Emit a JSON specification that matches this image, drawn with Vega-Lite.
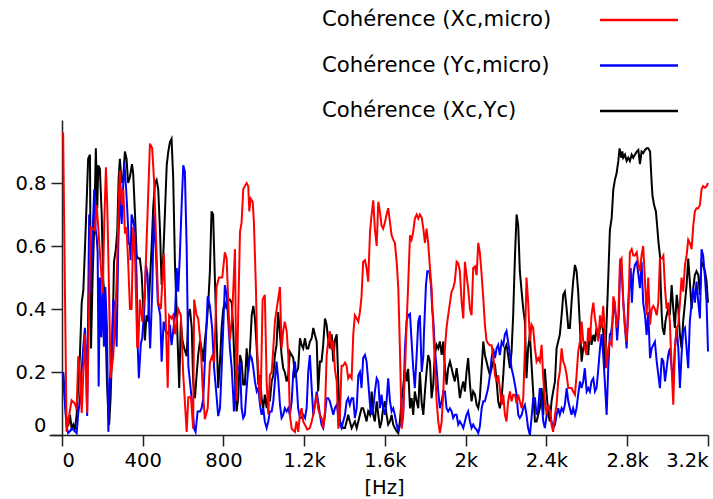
{
 "$schema": "https://vega.github.io/schema/vega-lite/v6.json",
 "width": 659,
 "height": 315,
 "autosize": {"type": "none"},
 "padding": {"left": 49, "top": 120, "right": 5, "bottom": 64},
 "config": {
  "view": {"stroke": null},
  "font": "DejaVu Sans",
  "axis": {"grid": false, "domainColor": "#222", "tickColor": "#222", "domainWidth": 1.5, "tickWidth": 1.5, "labelColor": "#000", "titleColor": "#000", "labelFont": "DejaVu Sans", "titleFont": "DejaVu Sans", "labelFontSize": 19.5, "titleFontSize": 19.5, "titleFontWeight": "normal", "tickSize": 11}
 },
 "datasets": {
  "xc_yc": [
   {"Hz":6,"coh":0.2},{"Hz":20,"coh":0.064},{"Hz":31,"coh":0.028},{"Hz":40,"coh":0.064},{"Hz":48,"coh":0.022},{"Hz":56,"coh":0.033},{"Hz":64,"coh":0.017},{"Hz":73,"coh":0.064},{"Hz":81,"coh":0.16},{"Hz":89,"coh":0.25},{"Hz":98,"coh":0.42},{"Hz":106,"coh":0.46},{"Hz":114,"coh":0.59},{"Hz":123,"coh":0.75},{"Hz":130,"coh":0.877},{"Hz":139,"coh":0.89},{"Hz":144,"coh":0.275},{"Hz":152,"coh":0.5},{"Hz":160,"coh":0.665},{"Hz":168,"coh":0.91},{"Hz":175,"coh":0.72},{"Hz":180,"coh":0.856},{"Hz":188,"coh":0.845},{"Hz":197,"coh":0.7},{"Hz":205,"coh":0.487},{"Hz":213,"coh":0.43},{"Hz":223,"coh":0.17},{"Hz":230,"coh":0.064},{"Hz":234,"coh":0.033},{"Hz":241,"coh":0.117},{"Hz":251,"coh":0.32},{"Hz":258,"coh":0.55},{"Hz":267,"coh":0.59},{"Hz":274,"coh":0.645},{"Hz":281,"coh":0.815},{"Hz":287,"coh":0.877},{"Hz":296,"coh":0.8},{"Hz":304,"coh":0.82},{"Hz":312,"coh":0.9},{"Hz":320,"coh":0.877},{"Hz":328,"coh":0.8},{"Hz":337,"coh":0.82},{"Hz":347,"coh":0.86},{"Hz":353,"coh":0.83},{"Hz":362,"coh":0.7},{"Hz":370,"coh":0.57},{"Hz":378,"coh":0.56},{"Hz":386,"coh":0.56},{"Hz":395,"coh":0.51},{"Hz":403,"coh":0.4},{"Hz":411,"coh":0.3},{"Hz":419,"coh":0.38},{"Hz":427,"coh":0.36},{"Hz":436,"coh":0.49},{"Hz":444,"coh":0.59},{"Hz":452,"coh":0.72},{"Hz":461,"coh":0.8},{"Hz":469,"coh":0.81},{"Hz":477,"coh":0.78},{"Hz":486,"coh":0.645},{"Hz":494,"coh":0.476},{"Hz":502,"coh":0.57},{"Hz":510,"coh":0.7},{"Hz":519,"coh":0.856},{"Hz":527,"coh":0.9},{"Hz":535,"coh":0.93},{"Hz":543,"coh":0.94},{"Hz":551,"coh":0.82},{"Hz":560,"coh":0.54},{"Hz":569,"coh":0.38},{"Hz":573,"coh":0.3},{"Hz":581,"coh":0.149},{"Hz":589,"coh":0.36},{"Hz":597,"coh":0.3},{"Hz":606,"coh":0.275},{"Hz":618,"coh":0.25},{"Hz":626,"coh":0.38},{"Hz":634,"coh":0.4},{"Hz":643,"coh":0.34},{"Hz":650,"coh":0.17},{"Hz":659,"coh":0.117},{"Hz":667,"coh":0.19},{"Hz":675,"coh":0.254},{"Hz":684,"coh":0.3},{"Hz":692,"coh":0.275},{"Hz":700,"coh":0.233},{"Hz":708,"coh":0.3},{"Hz":717,"coh":0.35},{"Hz":725,"coh":0.42},{"Hz":733,"coh":0.52},{"Hz":741,"coh":0.71},{"Hz":749,"coh":0.7},{"Hz":758,"coh":0.487},{"Hz":766,"coh":0.32},{"Hz":774,"coh":0.149},{"Hz":783,"coh":0.233},{"Hz":791,"coh":0.34},{"Hz":799,"coh":0.4},{"Hz":807,"coh":0.42},{"Hz":816,"coh":0.4},{"Hz":824,"coh":0.43},{"Hz":832,"coh":0.43},{"Hz":841,"coh":0.42},{"Hz":848,"coh":0.34},{"Hz":857,"coh":0.19},{"Hz":865,"coh":0.075},{"Hz":873,"coh":0.117},{"Hz":882,"coh":0.254},{"Hz":890,"coh":0.233},{"Hz":898,"coh":0.16},{"Hz":906,"coh":0.16},{"Hz":915,"coh":0.275},{"Hz":923,"coh":0.2},{"Hz":932,"coh":0.275},{"Hz":940,"coh":0.38},{"Hz":948,"coh":0.41},{"Hz":956,"coh":0.37},{"Hz":965,"coh":0.275},{"Hz":973,"coh":0.16},{"Hz":981,"coh":0.19},{"Hz":989,"coh":0.117},{"Hz":997,"coh":0.085},{"Hz":1005,"coh":0.128},{"Hz":1014,"coh":0.085},{"Hz":1022,"coh":0.138},{"Hz":1030,"coh":0.107},{"Hz":1039,"coh":0.17},{"Hz":1047,"coh":0.19},{"Hz":1055,"coh":0.254},{"Hz":1063,"coh":0.286},{"Hz":1071,"coh":0.39},{"Hz":1080,"coh":0.32},{"Hz":1088,"coh":0.254},{"Hz":1096,"coh":0.212},{"Hz":1104,"coh":0.2},{"Hz":1113,"coh":0.17},{"Hz":1121,"coh":0.19},{"Hz":1129,"coh":0.264},{"Hz":1138,"coh":0.254},{"Hz":1146,"coh":0.244},{"Hz":1154,"coh":0.19},{"Hz":1162,"coh":0.2},{"Hz":1170,"coh":0.212},{"Hz":1179,"coh":0.307},{"Hz":1187,"coh":0.286},{"Hz":1195,"coh":0.275},{"Hz":1204,"coh":0.307},{"Hz":1212,"coh":0.275},{"Hz":1220,"coh":0.275},{"Hz":1228,"coh":0.296},{"Hz":1237,"coh":0.307},{"Hz":1245,"coh":0.34},{"Hz":1253,"coh":0.318},{"Hz":1262,"coh":0.296},{"Hz":1269,"coh":0.138},{"Hz":1278,"coh":0.233},{"Hz":1286,"coh":0.233},{"Hz":1294,"coh":0.286},{"Hz":1303,"coh":0.37},{"Hz":1311,"coh":0.35},{"Hz":1319,"coh":0.3},{"Hz":1327,"coh":0.275},{"Hz":1336,"coh":0.32},{"Hz":1344,"coh":0.233},{"Hz":1352,"coh":0.3},{"Hz":1361,"coh":0.32},{"Hz":1369,"coh":0.17},{"Hz":1377,"coh":0.043},{"Hz":1385,"coh":0.033},{"Hz":1393,"coh":0.022},{"Hz":1402,"coh":0.022},{"Hz":1410,"coh":0.043},{"Hz":1418,"coh":0.064},{"Hz":1426,"coh":0.043},{"Hz":1435,"coh":0.022},{"Hz":1443,"coh":0.033},{"Hz":1451,"coh":0.043},{"Hz":1460,"coh":0.022},{"Hz":1468,"coh":0.043},{"Hz":1476,"coh":0.064},{"Hz":1484,"coh":0.085},{"Hz":1492,"coh":0.085},{"Hz":1501,"coh":0.064},{"Hz":1509,"coh":0.043},{"Hz":1517,"coh":0.075},{"Hz":1526,"coh":0.064},{"Hz":1534,"coh":0.138},{"Hz":1542,"coh":0.064},{"Hz":1550,"coh":0.043},{"Hz":1559,"coh":0.107},{"Hz":1567,"coh":0.064},{"Hz":1575,"coh":0.022},{"Hz":1583,"coh":0.043},{"Hz":1591,"coh":0.085},{"Hz":1600,"coh":0.107},{"Hz":1608,"coh":0.064},{"Hz":1616,"coh":0.033},{"Hz":1625,"coh":0.043},{"Hz":1633,"coh":0.064},{"Hz":1641,"coh":0.033},{"Hz":1649,"coh":0.022},{"Hz":1658,"coh":0.012},{"Hz":1666,"coh":0.006},{"Hz":1674,"coh":0.043},{"Hz":1683,"coh":0.117},{"Hz":1690,"coh":0.149},{"Hz":1699,"coh":0.212},{"Hz":1707,"coh":0.17},{"Hz":1715,"coh":0.21},{"Hz":1724,"coh":0.085},{"Hz":1732,"coh":0.117},{"Hz":1740,"coh":0.064},{"Hz":1748,"coh":0.138},{"Hz":1757,"coh":0.107},{"Hz":1765,"coh":0.085},{"Hz":1773,"coh":0.2},{"Hz":1782,"coh":0.1},{"Hz":1790,"coh":0.064},{"Hz":1798,"coh":0.138},{"Hz":1806,"coh":0.2},{"Hz":1814,"coh":0.254},{"Hz":1823,"coh":0.233},{"Hz":1831,"coh":0.117},{"Hz":1839,"coh":0.16},{"Hz":1847,"coh":0.254},{"Hz":1856,"coh":0.286},{"Hz":1864,"coh":0.275},{"Hz":1872,"coh":0.297},{"Hz":1881,"coh":0.254},{"Hz":1889,"coh":0.297},{"Hz":1897,"coh":0.212},{"Hz":1905,"coh":0.16},{"Hz":1913,"coh":0.212},{"Hz":1922,"coh":0.233},{"Hz":1930,"coh":0.212},{"Hz":1938,"coh":0.19},{"Hz":1946,"coh":0.17},{"Hz":1955,"coh":0.212},{"Hz":1963,"coh":0.17},{"Hz":1971,"coh":0.117},{"Hz":1980,"coh":0.149},{"Hz":1988,"coh":0.17},{"Hz":1996,"coh":0.138},{"Hz":2004,"coh":0.2},{"Hz":2012,"coh":0.244},{"Hz":2021,"coh":0.16},{"Hz":2029,"coh":0.107},{"Hz":2037,"coh":0.138},{"Hz":2046,"coh":0.128},{"Hz":2054,"coh":0.096},{"Hz":2062,"coh":0.085},{"Hz":2070,"coh":0.117},{"Hz":2079,"coh":0.212},{"Hz":2087,"coh":0.297},{"Hz":2095,"coh":0.254},{"Hz":2103,"coh":0.233},{"Hz":2111,"coh":0.212},{"Hz":2120,"coh":0.19},{"Hz":2128,"coh":0.212},{"Hz":2136,"coh":0.233},{"Hz":2145,"coh":0.223},{"Hz":2153,"coh":0.17},{"Hz":2161,"coh":0.107},{"Hz":2169,"coh":0.085},{"Hz":2178,"coh":0.117},{"Hz":2186,"coh":0.19},{"Hz":2194,"coh":0.275},{"Hz":2202,"coh":0.286},{"Hz":2210,"coh":0.254},{"Hz":2219,"coh":0.212},{"Hz":2227,"coh":0.264},{"Hz":2235,"coh":0.38},{"Hz":2244,"coh":0.57},{"Hz":2252,"coh":0.7},{"Hz":2260,"coh":0.665},{"Hz":2268,"coh":0.52},{"Hz":2277,"coh":0.455},{"Hz":2285,"coh":0.4},{"Hz":2293,"coh":0.36},{"Hz":2301,"coh":0.18},{"Hz":2309,"coh":0.275},{"Hz":2318,"coh":0.32},{"Hz":2326,"coh":0.223},{"Hz":2334,"coh":0.138},{"Hz":2343,"coh":0.043},{"Hz":2351,"coh":0.043},{"Hz":2359,"coh":0.064},{"Hz":2367,"coh":0.085},{"Hz":2376,"coh":0.149},{"Hz":2384,"coh":0.064},{"Hz":2392,"coh":0.21},{"Hz":2401,"coh":0.128},{"Hz":2409,"coh":0.064},{"Hz":2417,"coh":0.043},{"Hz":2425,"coh":0.107},{"Hz":2433,"coh":0.138},{"Hz":2442,"coh":0.17},{"Hz":2450,"coh":0.275},{"Hz":2458,"coh":0.297},{"Hz":2466,"coh":0.318},{"Hz":2475,"coh":0.38},{"Hz":2483,"coh":0.445},{"Hz":2491,"coh":0.455},{"Hz":2500,"coh":0.4},{"Hz":2508,"coh":0.34},{"Hz":2516,"coh":0.34},{"Hz":2524,"coh":0.42},{"Hz":2532,"coh":0.487},{"Hz":2541,"coh":0.54},{"Hz":2549,"coh":0.52},{"Hz":2557,"coh":0.455},{"Hz":2566,"coh":0.34},{"Hz":2574,"coh":0.233},{"Hz":2582,"coh":0.275},{"Hz":2590,"coh":0.297},{"Hz":2599,"coh":0.275},{"Hz":2607,"coh":0.254},{"Hz":2615,"coh":0.34},{"Hz":2623,"coh":0.286},{"Hz":2632,"coh":0.318},{"Hz":2640,"coh":0.297},{"Hz":2648,"coh":0.34},{"Hz":2657,"coh":0.307},{"Hz":2665,"coh":0.34},{"Hz":2673,"coh":0.36},{"Hz":2681,"coh":0.33},{"Hz":2689,"coh":0.212},{"Hz":2698,"coh":0.36},{"Hz":2706,"coh":0.5},{"Hz":2714,"coh":0.65},{"Hz":2723,"coh":0.69},{"Hz":2731,"coh":0.78},{"Hz":2739,"coh":0.81},{"Hz":2747,"coh":0.83},{"Hz":2756,"coh":0.87},{"Hz":2762,"coh":0.91},{"Hz":2771,"coh":0.88},{"Hz":2776,"coh":0.9},{"Hz":2780,"coh":0.88},{"Hz":2789,"coh":0.89},{"Hz":2797,"coh":0.87},{"Hz":2805,"coh":0.88},{"Hz":2813,"coh":0.87},{"Hz":2822,"coh":0.89},{"Hz":2830,"coh":0.88},{"Hz":2838,"coh":0.89},{"Hz":2847,"coh":0.9},{"Hz":2855,"coh":0.905},{"Hz":2863,"coh":0.86},{"Hz":2871,"coh":0.9},{"Hz":2879,"coh":0.895},{"Hz":2888,"coh":0.905},{"Hz":2896,"coh":0.91},{"Hz":2904,"coh":0.91},{"Hz":2913,"coh":0.9},{"Hz":2921,"coh":0.8},{"Hz":2925,"coh":0.76},{"Hz":2933,"coh":0.73},{"Hz":2942,"coh":0.71},{"Hz":2948,"coh":0.665},{"Hz":2955,"coh":0.61},{"Hz":2962,"coh":0.57},{"Hz":2965,"coh":0.49},{"Hz":2971,"coh":0.38},{"Hz":2975,"coh":0.34},{"Hz":2983,"coh":0.318},{"Hz":2989,"coh":0.36},{"Hz":2995,"coh":0.38},{"Hz":3003,"coh":0.4},{"Hz":3011,"coh":0.38},{"Hz":3020,"coh":0.476},{"Hz":3028,"coh":0.4},{"Hz":3036,"coh":0.34},{"Hz":3045,"coh":0.445},{"Hz":3053,"coh":0.4},{"Hz":3061,"coh":0.318},{"Hz":3069,"coh":0.275},{"Hz":3077,"coh":0.36},{"Hz":3086,"coh":0.42},{"Hz":3094,"coh":0.476},{"Hz":3102,"coh":0.56},{"Hz":3110,"coh":0.487},{"Hz":3119,"coh":0.4},{"Hz":3127,"coh":0.466},{"Hz":3135,"coh":0.508},{"Hz":3143,"coh":0.52},{"Hz":3152,"coh":0.508},{"Hz":3160,"coh":0.445},{"Hz":3168,"coh":0.55},{"Hz":3176,"coh":0.54},{"Hz":3185,"coh":0.52},{"Hz":3193,"coh":0.487},{"Hz":3200,"coh":0.42}
  ],
  "yc_micro": [
   {"Hz":6,"coh":0.2},{"Hz":15,"coh":0.1},{"Hz":23,"coh":0.027},{"Hz":31,"coh":0.006},{"Hz":40,"coh":0.012},{"Hz":48,"coh":0.02},{"Hz":56,"coh":0.017},{"Hz":64,"coh":0.012},{"Hz":73,"coh":0.006},{"Hz":81,"coh":0.07},{"Hz":89,"coh":0.11},{"Hz":98,"coh":0.21},{"Hz":106,"coh":0.28},{"Hz":114,"coh":0.34},{"Hz":119,"coh":0.26},{"Hz":125,"coh":0.06},{"Hz":130,"coh":0.41},{"Hz":135,"coh":0.7},{"Hz":142,"coh":0.45},{"Hz":152,"coh":0.64},{"Hz":160,"coh":0.78},{"Hz":167,"coh":0.65},{"Hz":172,"coh":0.63},{"Hz":177,"coh":0.58},{"Hz":182,"coh":0.154},{"Hz":188,"coh":0.5},{"Hz":195,"coh":0.31},{"Hz":202,"coh":0.47},{"Hz":208,"coh":0.28},{"Hz":215,"coh":0.47},{"Hz":223,"coh":0.34},{"Hz":230,"coh":0.01},{"Hz":238,"coh":0.175},{"Hz":246,"coh":0.24},{"Hz":254,"coh":0.43},{"Hz":263,"coh":0.41},{"Hz":271,"coh":0.28},{"Hz":279,"coh":0.6},{"Hz":287,"coh":0.77},{"Hz":296,"coh":0.67},{"Hz":304,"coh":0.8},{"Hz":309,"coh":0.867},{"Hz":318,"coh":0.78},{"Hz":324,"coh":0.71},{"Hz":331,"coh":0.61},{"Hz":337,"coh":0.6},{"Hz":340,"coh":0.555},{"Hz":345,"coh":0.7},{"Hz":353,"coh":0.68},{"Hz":362,"coh":0.65},{"Hz":370,"coh":0.5},{"Hz":375,"coh":0.29},{"Hz":381,"coh":0.18},{"Hz":391,"coh":0.29},{"Hz":398,"coh":0.31},{"Hz":408,"coh":0.4},{"Hz":416,"coh":0.54},{"Hz":424,"coh":0.51},{"Hz":431,"coh":0.38},{"Hz":437,"coh":0.275},{"Hz":447,"coh":0.45},{"Hz":455,"coh":0.7},{"Hz":465,"coh":0.59},{"Hz":475,"coh":0.42},{"Hz":487,"coh":0.38},{"Hz":494,"coh":0.233},{"Hz":504,"coh":0.36},{"Hz":514,"coh":0.33},{"Hz":527,"coh":0.32},{"Hz":535,"coh":0.35},{"Hz":543,"coh":0.285},{"Hz":551,"coh":0.33},{"Hz":560,"coh":0.38},{"Hz":569,"coh":0.53},{"Hz":576,"coh":0.455},{"Hz":584,"coh":0.57},{"Hz":593,"coh":0.73},{"Hz":601,"coh":0.856},{"Hz":609,"coh":0.835},{"Hz":618,"coh":0.59},{"Hz":626,"coh":0.22},{"Hz":634,"coh":0.17},{"Hz":645,"coh":0.1},{"Hz":655,"coh":0.02},{"Hz":662,"coh":0.01},{"Hz":672,"coh":0.075},{"Hz":684,"coh":0.075},{"Hz":692,"coh":0.085},{"Hz":700,"coh":0.117},{"Hz":711,"coh":0.275},{"Hz":722,"coh":0.44},{"Hz":733,"coh":0.41},{"Hz":744,"coh":0.34},{"Hz":754,"coh":0.21},{"Hz":764,"coh":0.138},{"Hz":774,"coh":0.06},{"Hz":783,"coh":0.085},{"Hz":791,"coh":0.21},{"Hz":799,"coh":0.34},{"Hz":807,"coh":0.476},{"Hz":816,"coh":0.445},{"Hz":824,"coh":0.36},{"Hz":832,"coh":0.275},{"Hz":841,"coh":0.212},{"Hz":848,"coh":0.13},{"Hz":852,"coh":0.075},{"Hz":862,"coh":0.19},{"Hz":873,"coh":0.212},{"Hz":882,"coh":0.223},{"Hz":890,"coh":0.085},{"Hz":898,"coh":0.054},{"Hz":906,"coh":0.064},{"Hz":915,"coh":0.149},{"Hz":923,"coh":0.212},{"Hz":932,"coh":0.254},{"Hz":940,"coh":0.244},{"Hz":948,"coh":0.212},{"Hz":956,"coh":0.17},{"Hz":965,"coh":0.138},{"Hz":973,"coh":0.149},{"Hz":981,"coh":0.096},{"Hz":989,"coh":0.064},{"Hz":997,"coh":0.085},{"Hz":1005,"coh":0.043},{"Hz":1014,"coh":0.022},{"Hz":1022,"coh":0.043},{"Hz":1030,"coh":0.075},{"Hz":1039,"coh":0.075},{"Hz":1047,"coh":0.107},{"Hz":1055,"coh":0.17},{"Hz":1063,"coh":0.233},{"Hz":1071,"coh":0.18},{"Hz":1080,"coh":0.096},{"Hz":1088,"coh":0.054},{"Hz":1096,"coh":0.064},{"Hz":1104,"coh":0.085},{"Hz":1113,"coh":0.075},{"Hz":1121,"coh":0.085},{"Hz":1129,"coh":0.064},{"Hz":1138,"coh":0.107},{"Hz":1146,"coh":0.2},{"Hz":1154,"coh":0.233},{"Hz":1162,"coh":0.17},{"Hz":1170,"coh":0.085},{"Hz":1179,"coh":0.054},{"Hz":1187,"coh":0.054},{"Hz":1195,"coh":0.064},{"Hz":1204,"coh":0.054},{"Hz":1212,"coh":0.085},{"Hz":1220,"coh":0.2},{"Hz":1228,"coh":0.254},{"Hz":1237,"coh":0.149},{"Hz":1245,"coh":0.064},{"Hz":1253,"coh":0.096},{"Hz":1262,"coh":0.138},{"Hz":1269,"coh":0.107},{"Hz":1278,"coh":0.064},{"Hz":1286,"coh":0.033},{"Hz":1294,"coh":0.022},{"Hz":1303,"coh":0.064},{"Hz":1311,"coh":0.117},{"Hz":1319,"coh":0.117},{"Hz":1327,"coh":0.107},{"Hz":1336,"coh":0.085},{"Hz":1344,"coh":0.064},{"Hz":1352,"coh":0.085},{"Hz":1361,"coh":0.096},{"Hz":1369,"coh":0.064},{"Hz":1377,"coh":0.033},{"Hz":1385,"coh":0.022},{"Hz":1393,"coh":0.043},{"Hz":1402,"coh":0.064},{"Hz":1410,"coh":0.107},{"Hz":1418,"coh":0.117},{"Hz":1426,"coh":0.096},{"Hz":1435,"coh":0.117},{"Hz":1443,"coh":0.117},{"Hz":1451,"coh":0.054},{"Hz":1460,"coh":0.085},{"Hz":1468,"coh":0.19},{"Hz":1476,"coh":0.2},{"Hz":1484,"coh":0.149},{"Hz":1492,"coh":0.244},{"Hz":1501,"coh":0.254},{"Hz":1509,"coh":0.233},{"Hz":1517,"coh":0.17},{"Hz":1526,"coh":0.096},{"Hz":1534,"coh":0.064},{"Hz":1542,"coh":0.085},{"Hz":1550,"coh":0.138},{"Hz":1559,"coh":0.18},{"Hz":1567,"coh":0.17},{"Hz":1575,"coh":0.085},{"Hz":1583,"coh":0.128},{"Hz":1591,"coh":0.085},{"Hz":1600,"coh":0.064},{"Hz":1608,"coh":0.107},{"Hz":1616,"coh":0.18},{"Hz":1625,"coh":0.107},{"Hz":1633,"coh":0.075},{"Hz":1641,"coh":0.085},{"Hz":1649,"coh":0.064},{"Hz":1658,"coh":0.033},{"Hz":1666,"coh":0.012},{"Hz":1674,"coh":0.033},{"Hz":1683,"coh":0.033},{"Hz":1690,"coh":0.064},{"Hz":1699,"coh":0.275},{"Hz":1707,"coh":0.36},{"Hz":1715,"coh":0.38},{"Hz":1724,"coh":0.385},{"Hz":1732,"coh":0.296},{"Hz":1740,"coh":0.212},{"Hz":1748,"coh":0.149},{"Hz":1757,"coh":0.254},{"Hz":1765,"coh":0.36},{"Hz":1773,"coh":0.38},{"Hz":1782,"coh":0.2},{"Hz":1790,"coh":0.25},{"Hz":1793,"coh":0.32},{"Hz":1803,"coh":0.476},{"Hz":1810,"coh":0.52},{"Hz":1820,"coh":0.52},{"Hz":1828,"coh":0.476},{"Hz":1834,"coh":0.4},{"Hz":1839,"coh":0.37},{"Hz":1847,"coh":0.275},{"Hz":1856,"coh":0.21},{"Hz":1864,"coh":0.138},{"Hz":1872,"coh":0.085},{"Hz":1881,"coh":0.107},{"Hz":1889,"coh":0.138},{"Hz":1897,"coh":0.138},{"Hz":1905,"coh":0.085},{"Hz":1913,"coh":0.075},{"Hz":1922,"coh":0.085},{"Hz":1930,"coh":0.075},{"Hz":1938,"coh":0.054},{"Hz":1946,"coh":0.064},{"Hz":1955,"coh":0.064},{"Hz":1963,"coh":0.033},{"Hz":1971,"coh":0.043},{"Hz":1980,"coh":0.033},{"Hz":1988,"coh":0.022},{"Hz":1996,"coh":0.043},{"Hz":2004,"coh":0.064},{"Hz":2012,"coh":0.075},{"Hz":2021,"coh":0.043},{"Hz":2029,"coh":0.022},{"Hz":2037,"coh":0.033},{"Hz":2046,"coh":0.022},{"Hz":2054,"coh":0.017},{"Hz":2062,"coh":0.006},{"Hz":2070,"coh":0.027},{"Hz":2079,"coh":0.085},{"Hz":2087,"coh":0.107},{"Hz":2095,"coh":0.107},{"Hz":2103,"coh":0.128},{"Hz":2111,"coh":0.149},{"Hz":2120,"coh":0.19},{"Hz":2128,"coh":0.244},{"Hz":2136,"coh":0.275},{"Hz":2145,"coh":0.244},{"Hz":2153,"coh":0.275},{"Hz":2161,"coh":0.286},{"Hz":2169,"coh":0.254},{"Hz":2178,"coh":0.296},{"Hz":2186,"coh":0.286},{"Hz":2194,"coh":0.32},{"Hz":2202,"coh":0.33},{"Hz":2210,"coh":0.296},{"Hz":2219,"coh":0.254},{"Hz":2227,"coh":0.212},{"Hz":2235,"coh":0.19},{"Hz":2244,"coh":0.159},{"Hz":2252,"coh":0.128},{"Hz":2260,"coh":0.064},{"Hz":2268,"coh":0.054},{"Hz":2277,"coh":0.064},{"Hz":2285,"coh":0.085},{"Hz":2293,"coh":0.096},{"Hz":2301,"coh":0.064},{"Hz":2309,"coh":0.022},{"Hz":2318,"coh":0.0},{"Hz":2326,"coh":0.054},{"Hz":2334,"coh":0.117},{"Hz":2343,"coh":0.117},{"Hz":2351,"coh":0.064},{"Hz":2359,"coh":0.085},{"Hz":2367,"coh":0.149},{"Hz":2376,"coh":0.107},{"Hz":2384,"coh":0.043},{"Hz":2392,"coh":0.022},{"Hz":2401,"coh":0.064},{"Hz":2409,"coh":0.096},{"Hz":2417,"coh":0.075},{"Hz":2425,"coh":0.043},{"Hz":2433,"coh":0.022},{"Hz":2442,"coh":0.033},{"Hz":2450,"coh":0.064},{"Hz":2458,"coh":0.085},{"Hz":2466,"coh":0.064},{"Hz":2475,"coh":0.085},{"Hz":2483,"coh":0.075},{"Hz":2491,"coh":0.096},{"Hz":2500,"coh":0.149},{"Hz":2508,"coh":0.107},{"Hz":2516,"coh":0.085},{"Hz":2524,"coh":0.064},{"Hz":2532,"coh":0.085},{"Hz":2541,"coh":0.064},{"Hz":2549,"coh":0.085},{"Hz":2557,"coh":0.128},{"Hz":2566,"coh":0.17},{"Hz":2574,"coh":0.149},{"Hz":2582,"coh":0.17},{"Hz":2590,"coh":0.212},{"Hz":2599,"coh":0.138},{"Hz":2607,"coh":0.149},{"Hz":2615,"coh":0.138},{"Hz":2623,"coh":0.17},{"Hz":2632,"coh":0.18},{"Hz":2640,"coh":0.138},{"Hz":2648,"coh":0.149},{"Hz":2657,"coh":0.212},{"Hz":2665,"coh":0.275},{"Hz":2673,"coh":0.32},{"Hz":2681,"coh":0.254},{"Hz":2689,"coh":0.17},{"Hz":2698,"coh":0.064},{"Hz":2706,"coh":0.212},{"Hz":2714,"coh":0.32},{"Hz":2719,"coh":0.32},{"Hz":2727,"coh":0.36},{"Hz":2733,"coh":0.42},{"Hz":2743,"coh":0.38},{"Hz":2750,"coh":0.3},{"Hz":2758,"coh":0.38},{"Hz":2766,"coh":0.56},{"Hz":2773,"coh":0.52},{"Hz":2780,"coh":0.43},{"Hz":2789,"coh":0.34},{"Hz":2797,"coh":0.275},{"Hz":2805,"coh":0.42},{"Hz":2817,"coh":0.53},{"Hz":2823,"coh":0.42},{"Hz":2830,"coh":0.51},{"Hz":2838,"coh":0.54},{"Hz":2847,"coh":0.55},{"Hz":2855,"coh":0.51},{"Hz":2863,"coh":0.466},{"Hz":2871,"coh":0.55},{"Hz":2879,"coh":0.42},{"Hz":2888,"coh":0.38},{"Hz":2896,"coh":0.318},{"Hz":2904,"coh":0.39},{"Hz":2913,"coh":0.244},{"Hz":2921,"coh":0.275},{"Hz":2929,"coh":0.286},{"Hz":2937,"coh":0.296},{"Hz":2946,"coh":0.233},{"Hz":2954,"coh":0.19},{"Hz":2962,"coh":0.149},{"Hz":2971,"coh":0.244},{"Hz":2979,"coh":0.233},{"Hz":2987,"coh":0.17},{"Hz":2995,"coh":0.212},{"Hz":3003,"coh":0.254},{"Hz":3011,"coh":0.275},{"Hz":3020,"coh":0.212},{"Hz":3028,"coh":0.17},{"Hz":3036,"coh":0.275},{"Hz":3045,"coh":0.34},{"Hz":3053,"coh":0.275},{"Hz":3061,"coh":0.149},{"Hz":3069,"coh":0.254},{"Hz":3077,"coh":0.33},{"Hz":3086,"coh":0.34},{"Hz":3094,"coh":0.275},{"Hz":3102,"coh":0.212},{"Hz":3110,"coh":0.36},{"Hz":3119,"coh":0.42},{"Hz":3127,"coh":0.466},{"Hz":3135,"coh":0.42},{"Hz":3143,"coh":0.487},{"Hz":3152,"coh":0.42},{"Hz":3160,"coh":0.37},{"Hz":3168,"coh":0.59},{"Hz":3176,"coh":0.57},{"Hz":3185,"coh":0.5},{"Hz":3193,"coh":0.42},{"Hz":3200,"coh":0.265}
  ],
  "xc_micro": [
   {"Hz":6,"coh":0.96},{"Hz":23,"coh":0.01},{"Hz":40,"coh":0.08},{"Hz":48,"coh":0.11},{"Hz":64,"coh":0.1},{"Hz":73,"coh":0.08},{"Hz":81,"coh":0.25},{"Hz":89,"coh":0.2},{"Hz":98,"coh":0.07},{"Hz":114,"coh":0.32},{"Hz":125,"coh":0.07},{"Hz":135,"coh":0.42},{"Hz":142,"coh":0.66},{"Hz":163,"coh":0.65},{"Hz":172,"coh":0.73},{"Hz":180,"coh":0.66},{"Hz":188,"coh":0.58},{"Hz":202,"coh":0.45},{"Hz":210,"coh":0.68},{"Hz":218,"coh":0.85},{"Hz":224,"coh":0.74},{"Hz":233,"coh":0.47},{"Hz":241,"coh":0.18},{"Hz":254,"coh":0.25},{"Hz":263,"coh":0.36},{"Hz":271,"coh":0.49},{"Hz":279,"coh":0.68},{"Hz":287,"coh":0.84},{"Hz":296,"coh":0.73},{"Hz":304,"coh":0.78},{"Hz":312,"coh":0.64},{"Hz":320,"coh":0.66},{"Hz":328,"coh":0.55},{"Hz":337,"coh":0.4},{"Hz":345,"coh":0.4},{"Hz":353,"coh":0.66},{"Hz":362,"coh":0.57},{"Hz":373,"coh":0.28},{"Hz":378,"coh":0.28},{"Hz":386,"coh":0.43},{"Hz":398,"coh":0.36},{"Hz":411,"coh":0.46},{"Hz":424,"coh":0.7},{"Hz":436,"coh":0.925},{"Hz":447,"coh":0.91},{"Hz":457,"coh":0.8},{"Hz":469,"coh":0.57},{"Hz":477,"coh":0.42},{"Hz":490,"coh":0.4},{"Hz":505,"coh":0.575},{"Hz":524,"coh":0.15},{"Hz":531,"coh":0.38},{"Hz":543,"coh":0.37},{"Hz":551,"coh":0.38},{"Hz":560,"coh":0.32},{"Hz":576,"coh":0.4},{"Hz":589,"coh":0.38},{"Hz":601,"coh":0.19},{"Hz":618,"coh":0.01},{"Hz":626,"coh":0.12},{"Hz":639,"coh":0.12},{"Hz":650,"coh":0.02},{"Hz":655,"coh":0.43},{"Hz":667,"coh":0.38},{"Hz":675,"coh":0.37},{"Hz":688,"coh":0.28},{"Hz":697,"coh":0.15},{"Hz":708,"coh":0.05},{"Hz":722,"coh":0.085},{"Hz":733,"coh":0.23},{"Hz":744,"coh":0.25},{"Hz":754,"coh":0.23},{"Hz":766,"coh":0.47},{"Hz":778,"coh":0.5},{"Hz":794,"coh":0.5},{"Hz":807,"coh":0.58},{"Hz":816,"coh":0.56},{"Hz":824,"coh":0.42},{"Hz":832,"coh":0.3},{"Hz":841,"coh":0.36},{"Hz":848,"coh":0.45},{"Hz":857,"coh":0.59},{"Hz":865,"coh":0.107},{"Hz":873,"coh":0.38},{"Hz":882,"coh":0.645},{"Hz":890,"coh":0.675},{"Hz":898,"coh":0.78},{"Hz":906,"coh":0.79},{"Hz":915,"coh":0.8},{"Hz":923,"coh":0.79},{"Hz":928,"coh":0.71},{"Hz":935,"coh":0.75},{"Hz":945,"coh":0.74},{"Hz":951,"coh":0.675},{"Hz":961,"coh":0.465},{"Hz":967,"coh":0.275},{"Hz":977,"coh":0.15},{"Hz":984,"coh":0.096},{"Hz":994,"coh":0.43},{"Hz":1005,"coh":0.445},{"Hz":1014,"coh":0.17},{"Hz":1022,"coh":0.065},{"Hz":1030,"coh":0.19},{"Hz":1039,"coh":0.2},{"Hz":1047,"coh":0.275},{"Hz":1055,"coh":0.36},{"Hz":1066,"coh":0.41},{"Hz":1080,"coh":0.47},{"Hz":1088,"coh":0.275},{"Hz":1096,"coh":0.33},{"Hz":1104,"coh":0.36},{"Hz":1113,"coh":0.33},{"Hz":1121,"coh":0.255},{"Hz":1129,"coh":0.064},{"Hz":1138,"coh":0.02},{"Hz":1154,"coh":0.01},{"Hz":1162,"coh":0.043},{"Hz":1170,"coh":0.01},{"Hz":1179,"coh":0.064},{"Hz":1187,"coh":0.085},{"Hz":1195,"coh":0.043},{"Hz":1204,"coh":0.032},{"Hz":1215,"coh":0.017},{"Hz":1228,"coh":0.022},{"Hz":1237,"coh":0.043},{"Hz":1245,"coh":0.064},{"Hz":1253,"coh":0.096},{"Hz":1262,"coh":0.128},{"Hz":1269,"coh":0.085},{"Hz":1278,"coh":0.064},{"Hz":1286,"coh":0.054},{"Hz":1294,"coh":0.022},{"Hz":1303,"coh":0.075},{"Hz":1311,"coh":0.25},{"Hz":1319,"coh":0.3},{"Hz":1327,"coh":0.33},{"Hz":1336,"coh":0.27},{"Hz":1344,"coh":0.3},{"Hz":1352,"coh":0.21},{"Hz":1361,"coh":0.17},{"Hz":1369,"coh":0.02},{"Hz":1377,"coh":0.064},{"Hz":1385,"coh":0.22},{"Hz":1393,"coh":0.22},{"Hz":1402,"coh":0.23},{"Hz":1410,"coh":0.22},{"Hz":1418,"coh":0.18},{"Hz":1426,"coh":0.19},{"Hz":1435,"coh":0.18},{"Hz":1443,"coh":0.32},{"Hz":1451,"coh":0.38},{"Hz":1460,"coh":0.37},{"Hz":1468,"coh":0.36},{"Hz":1476,"coh":0.39},{"Hz":1484,"coh":0.44},{"Hz":1492,"coh":0.55},{"Hz":1501,"coh":0.555},{"Hz":1509,"coh":0.53},{"Hz":1517,"coh":0.487},{"Hz":1526,"coh":0.645},{"Hz":1534,"coh":0.7},{"Hz":1542,"coh":0.745},{"Hz":1550,"coh":0.655},{"Hz":1559,"coh":0.6},{"Hz":1567,"coh":0.74},{"Hz":1575,"coh":0.71},{"Hz":1583,"coh":0.665},{"Hz":1591,"coh":0.655},{"Hz":1600,"coh":0.675},{"Hz":1608,"coh":0.7},{"Hz":1616,"coh":0.72},{"Hz":1625,"coh":0.675},{"Hz":1633,"coh":0.634},{"Hz":1641,"coh":0.62},{"Hz":1649,"coh":0.61},{"Hz":1658,"coh":0.55},{"Hz":1666,"coh":0.466},{"Hz":1674,"coh":0.275},{"Hz":1683,"coh":0.02},{"Hz":1690,"coh":0.064},{"Hz":1699,"coh":0.2},{"Hz":1707,"coh":0.35},{"Hz":1715,"coh":0.476},{"Hz":1724,"coh":0.634},{"Hz":1732,"coh":0.62},{"Hz":1740,"coh":0.645},{"Hz":1748,"coh":0.687},{"Hz":1757,"coh":0.7},{"Hz":1765,"coh":0.687},{"Hz":1773,"coh":0.7},{"Hz":1782,"coh":0.69},{"Hz":1790,"coh":0.655},{"Hz":1798,"coh":0.61},{"Hz":1806,"coh":0.655},{"Hz":1814,"coh":0.61},{"Hz":1823,"coh":0.53},{"Hz":1831,"coh":0.465},{"Hz":1839,"coh":0.34},{"Hz":1847,"coh":0.23},{"Hz":1856,"coh":0.107},{"Hz":1864,"coh":0.043},{"Hz":1872,"coh":0.006},{"Hz":1881,"coh":0.043},{"Hz":1889,"coh":0.138},{"Hz":1897,"coh":0.275},{"Hz":1905,"coh":0.34},{"Hz":1913,"coh":0.38},{"Hz":1922,"coh":0.42},{"Hz":1930,"coh":0.455},{"Hz":1938,"coh":0.466},{"Hz":1946,"coh":0.487},{"Hz":1955,"coh":0.55},{"Hz":1963,"coh":0.545},{"Hz":1971,"coh":0.52},{"Hz":1980,"coh":0.42},{"Hz":1988,"coh":0.37},{"Hz":1996,"coh":0.55},{"Hz":2004,"coh":0.507},{"Hz":2012,"coh":0.466},{"Hz":2021,"coh":0.4},{"Hz":2029,"coh":0.38},{"Hz":2037,"coh":0.53},{"Hz":2046,"coh":0.535},{"Hz":2054,"coh":0.507},{"Hz":2062,"coh":0.61},{"Hz":2070,"coh":0.58},{"Hz":2079,"coh":0.507},{"Hz":2087,"coh":0.434},{"Hz":2095,"coh":0.35},{"Hz":2103,"coh":0.3},{"Hz":2111,"coh":0.29},{"Hz":2120,"coh":0.285},{"Hz":2128,"coh":0.285},{"Hz":2136,"coh":0.254},{"Hz":2145,"coh":0.19},{"Hz":2153,"coh":0.17},{"Hz":2161,"coh":0.19},{"Hz":2169,"coh":0.149},{"Hz":2178,"coh":0.096},{"Hz":2186,"coh":0.128},{"Hz":2194,"coh":0.064},{"Hz":2202,"coh":0.043},{"Hz":2210,"coh":0.107},{"Hz":2219,"coh":0.138},{"Hz":2227,"coh":0.107},{"Hz":2235,"coh":0.128},{"Hz":2244,"coh":0.128},{"Hz":2252,"coh":0.1},{"Hz":2260,"coh":0.128},{"Hz":2268,"coh":0.107},{"Hz":2277,"coh":0.085},{"Hz":2285,"coh":0.117},{"Hz":2293,"coh":0.275},{"Hz":2301,"coh":0.5},{"Hz":2309,"coh":0.425},{"Hz":2318,"coh":0.297},{"Hz":2326,"coh":0.35},{"Hz":2334,"coh":0.34},{"Hz":2343,"coh":0.275},{"Hz":2351,"coh":0.233},{"Hz":2359,"coh":0.244},{"Hz":2367,"coh":0.233},{"Hz":2376,"coh":0.286},{"Hz":2384,"coh":0.18},{"Hz":2392,"coh":0.107},{"Hz":2401,"coh":0.064},{"Hz":2409,"coh":0.096},{"Hz":2417,"coh":0.075},{"Hz":2425,"coh":0.033},{"Hz":2433,"coh":0.01},{"Hz":2442,"coh":0.064},{"Hz":2450,"coh":0.096},{"Hz":2458,"coh":0.17},{"Hz":2466,"coh":0.2},{"Hz":2475,"coh":0.275},{"Hz":2483,"coh":0.233},{"Hz":2491,"coh":0.22},{"Hz":2500,"coh":0.19},{"Hz":2508,"coh":0.149},{"Hz":2516,"coh":0.149},{"Hz":2524,"coh":0.149},{"Hz":2532,"coh":0.138},{"Hz":2541,"coh":0.128},{"Hz":2549,"coh":0.19},{"Hz":2557,"coh":0.264},{"Hz":2566,"coh":0.297},{"Hz":2574,"coh":0.36},{"Hz":2582,"coh":0.297},{"Hz":2590,"coh":0.275},{"Hz":2599,"coh":0.254},{"Hz":2607,"coh":0.34},{"Hz":2615,"coh":0.297},{"Hz":2623,"coh":0.38},{"Hz":2632,"coh":0.42},{"Hz":2640,"coh":0.37},{"Hz":2648,"coh":0.34},{"Hz":2657,"coh":0.297},{"Hz":2665,"coh":0.38},{"Hz":2673,"coh":0.34},{"Hz":2681,"coh":0.41},{"Hz":2689,"coh":0.33},{"Hz":2698,"coh":0.212},{"Hz":2706,"coh":0.275},{"Hz":2714,"coh":0.297},{"Hz":2723,"coh":0.286},{"Hz":2731,"coh":0.44},{"Hz":2739,"coh":0.42},{"Hz":2747,"coh":0.34},{"Hz":2756,"coh":0.38},{"Hz":2764,"coh":0.55},{"Hz":2772,"coh":0.56},{"Hz":2780,"coh":0.42},{"Hz":2789,"coh":0.34},{"Hz":2797,"coh":0.297},{"Hz":2805,"coh":0.38},{"Hz":2813,"coh":0.58},{"Hz":2822,"coh":0.59},{"Hz":2830,"coh":0.57},{"Hz":2838,"coh":0.57},{"Hz":2847,"coh":0.58},{"Hz":2855,"coh":0.54},{"Hz":2863,"coh":0.52},{"Hz":2871,"coh":0.57},{"Hz":2879,"coh":0.6},{"Hz":2888,"coh":0.487},{"Hz":2896,"coh":0.38},{"Hz":2904,"coh":0.5},{"Hz":2913,"coh":0.35},{"Hz":2921,"coh":0.4},{"Hz":2929,"coh":0.41},{"Hz":2937,"coh":0.4},{"Hz":2946,"coh":0.38},{"Hz":2954,"coh":0.42},{"Hz":2962,"coh":0.56},{"Hz":2971,"coh":0.56},{"Hz":2979,"coh":0.57},{"Hz":2987,"coh":0.466},{"Hz":2995,"coh":0.4},{"Hz":3003,"coh":0.42},{"Hz":3011,"coh":0.36},{"Hz":3020,"coh":0.21},{"Hz":3028,"coh":0.096},{"Hz":3036,"coh":0.275},{"Hz":3045,"coh":0.34},{"Hz":3053,"coh":0.35},{"Hz":3061,"coh":0.42},{"Hz":3069,"coh":0.5},{"Hz":3077,"coh":0.455},{"Hz":3086,"coh":0.54},{"Hz":3094,"coh":0.57},{"Hz":3102,"coh":0.62},{"Hz":3110,"coh":0.61},{"Hz":3119,"coh":0.59},{"Hz":3127,"coh":0.665},{"Hz":3135,"coh":0.71},{"Hz":3143,"coh":0.72},{"Hz":3152,"coh":0.72},{"Hz":3160,"coh":0.73},{"Hz":3168,"coh":0.78},{"Hz":3176,"coh":0.79},{"Hz":3185,"coh":0.785},{"Hz":3193,"coh":0.79},{"Hz":3200,"coh":0.8}
  ]
 },
 "encoding": {
  "x": {"field": "Hz", "type": "quantitative", "scale": {"domain": [-64, 3200], "nice": false, "zero": false},
        "axis": {"values": [0, 400, 800, 1200, 1600, 2000, 2400, 2800, 3200], "labelExpr": "datum.value >= 1000 ? format(datum.value / 1000, '~g') + 'k' : format(datum.value, 'd')", "title": "[Hz]", "labelFlush": 15, "labelPadding": 5, "titlePadding": 9, "titleX": 335}},
  "y": {"field": "coh", "type": "quantitative", "scale": {"domain": [0, 1], "nice": false},
        "axis": {"values": [0, 0.2, 0.4, 0.6, 0.8], "format": "~g", "title": null, "offset": -13, "labelFlush": true, "labelPadding": 5}}
 },
 "layer": [
  {"data": {"name": "xc_yc"}, "mark": {"type": "line", "strokeWidth": 2},
   "encoding": {"color": {"datum": "Cohérence (Xc,Yc)", "type": "nominal",
     "scale": {"domain": ["Cohérence (Xc,micro)", "Cohérence (Yc,micro)", "Cohérence (Xc,Yc)"], "range": ["#ff0000", "#0000ff", "#000000"]},
     "legend": {"orient": "none", "legendX": 273, "legendY": -111, "title": null, "padding": 0, "symbolType": "M-4,0L4,0", "symbolSize": 380, "symbolStrokeWidth": 2.5, "symbolFillColor": "transparent", "labelFont": "DejaVu Sans", "labelFontSize": 21.2, "labelColor": "#000", "labelLimit": 400, "labelOffset": -328, "symbolOffset": 306, "rowPadding": 23.5}}}},
  {"data": {"name": "yc_micro"}, "mark": {"type": "line", "strokeWidth": 2},
   "encoding": {"color": {"datum": "Cohérence (Yc,micro)", "type": "nominal"}}},
  {"data": {"name": "xc_micro"}, "mark": {"type": "line", "strokeWidth": 2},
   "encoding": {"color": {"datum": "Cohérence (Xc,micro)", "type": "nominal"}}}
 ]
}
